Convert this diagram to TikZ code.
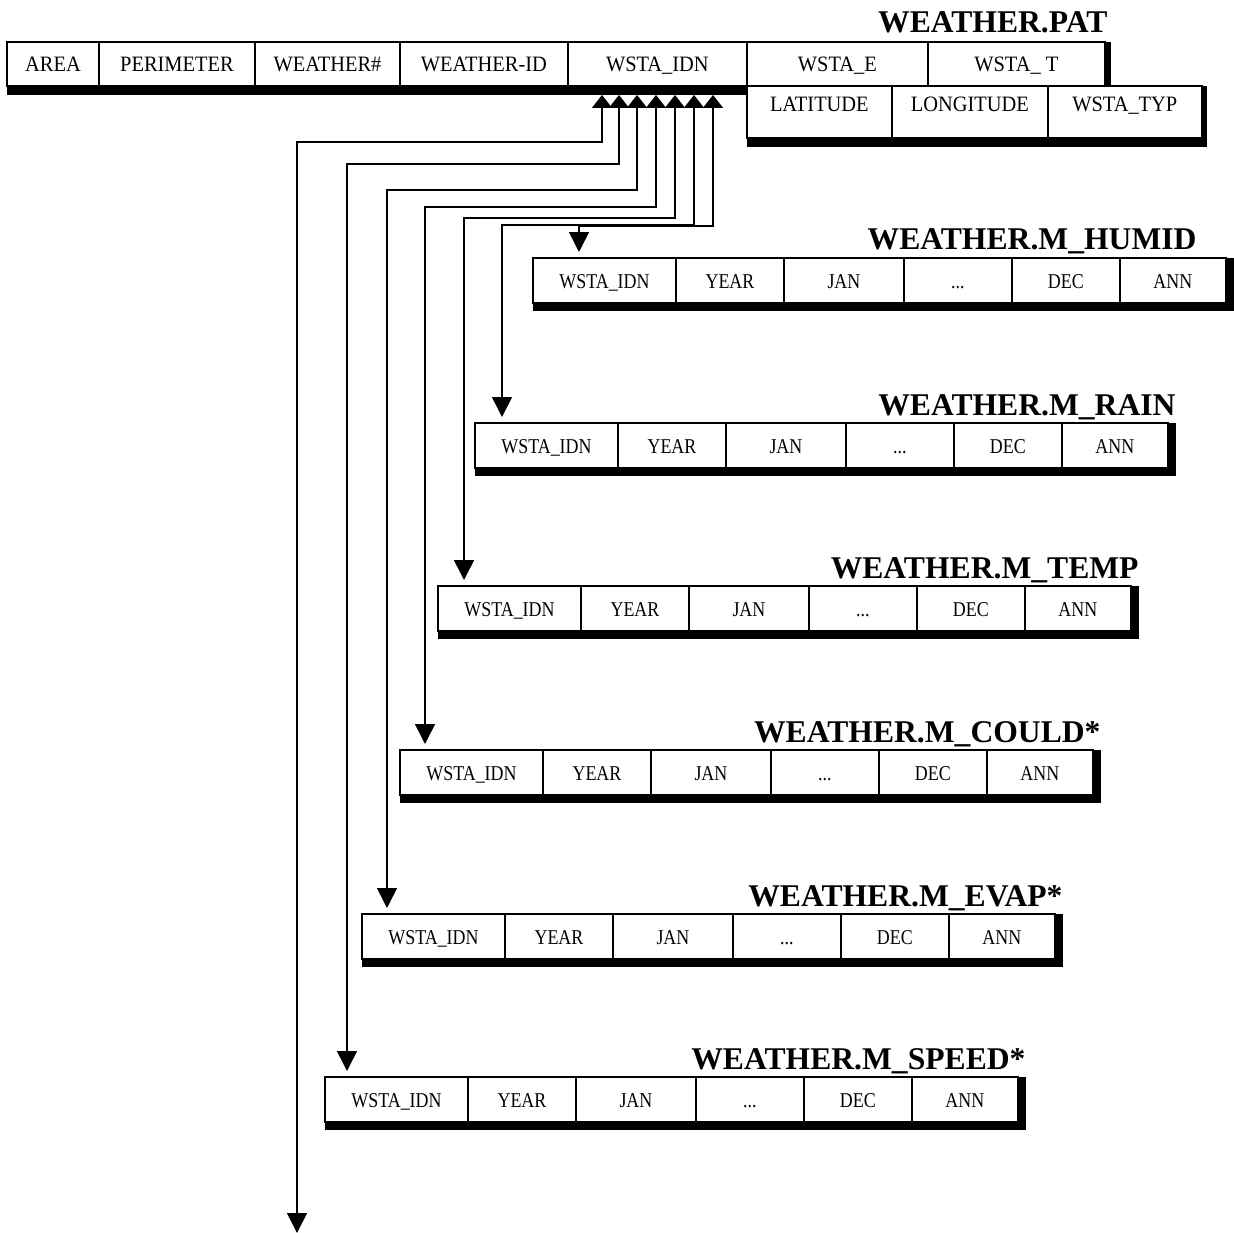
\documentclass[tikz,border=0pt]{standalone}
\usepackage{fontspec}
\setmainfont{Liberation Serif}
\newfontfamily\topfont[FakeStretch=0.93]{Liberation Serif}
\newfontfamily\lowfont[FakeStretch=0.85]{Liberation Serif}
\usetikzlibrary{arrows.meta,positioning,backgrounds}

\begin{document}
\begin{tikzpicture}[
    x=0.02cm, y=-0.02cm,
    cell/.style={rectangle, draw, fill=white, line width=1pt,
                 outer sep=0pt, inner sep=0pt, minimum height=0.88cm,
                 text height=11pt, text depth=1.9pt,
                 font=\topfont\fontsize{12.5}{14}\selectfont},
    cellhi/.style={cell, minimum height=1.04cm, text height=10pt, text depth=10pt},
    lowcell/.style={cell, minimum height=0.9cm,
                 text height=10.5pt, text depth=1.4pt,
                 font=\lowfont\fontsize{12}{14}\selectfont},
    title/.style={inner sep=0pt, anchor=base east,
                  font=\fontsize{18}{21}\selectfont\bfseries},
    link/.style={{Triangle[width=0.4cm,length=0.26cm]}-{Triangle[width=0.4cm,length=0.4cm]},
                 line width=0.9pt, shorten <=0.18cm, shorten >=0.12cm}
  ]
  \useasboundingbox (0,0) rectangle (1234,1233);

  % WEATHER.PAT
  \node[cell, minimum width=1.84cm, anchor=north west] (area) at (7,42) {AREA};
  \node[cell, minimum width=3.12cm, right=0pt of area]  (perim) {PERIMETER};
  \node[cell, minimum width=2.9cm,  right=0pt of perim] (wnum)  {WEATHER\#};
  \node[cell, minimum width=3.36cm, right=0pt of wnum]  (wid)   {WEATHER-ID};
  \node[cell, minimum width=3.58cm, right=0pt of wid]   (idn)   {WSTA\_IDN};
  \node[cell, minimum width=3.62cm, right=0pt of idn]   (wse)   {WSTA\_E};
  \node[cell, minimum width=3.54cm, right=0pt of wse]   (wst)   {WSTA\_ T};
  \node[cellhi, minimum width=2.9cm, anchor=north west] (lat) at (idn.south east) {LATITUDE};
  \node[cellhi, minimum width=3.12cm, right=0pt of lat] (lon) {LONGITUDE};
  \node[cellhi, minimum width=3.08cm, right=0pt of lon] (typ) {WSTA\_TYP};
  \node[title] (pat) at ([shift={(3,-9)}]wst.north east) {WEATHER.PAT};
  \begin{scope}[on background layer]
    \fill (area.north west) rectangle ([shift={(6,9)}]wst.south east);
    \fill (lat.north west) rectangle ([shift={(5,9)}]typ.south east);
  \end{scope}

  % monthly tables
  \foreach \t/\x/\y/\name/\dx in {hum/533/258/HUMID/-29, rain/475/423/RAIN/8,
      tmp/438/586/TEMP/8, cld/400/750/COULD*/8, evp/362/914/EVAP*/8, spd/325/1077/SPEED*/8} {
    \node[lowcell, minimum width=2.86cm, anchor=north west] (\t-idn) at (\x,\y) {WSTA\_IDN};
    \node[lowcell, minimum width=2.16cm, right=0pt of \t-idn]  (\t-year) {YEAR};
    \node[lowcell, minimum width=2.4cm,  right=0pt of \t-year] (\t-jan)  {JAN};
    \node[lowcell, minimum width=2.16cm, right=0pt of \t-jan]  (\t-dots) {...};
    \node[lowcell, minimum width=2.16cm, right=0pt of \t-dots] (\t-dec)  {DEC};
    \node[lowcell, minimum width=2.12cm, right=0pt of \t-dec]  (\t-ann)  {ANN};
    \node[title] (\t-title) at ([shift={(\dx,-8)}]\t-ann.north east) {WEATHER.M\_\name};
    \begin{scope}[on background layer]
      \fill (\t-idn.north west) rectangle ([shift={(8,8)}]\t-ann.south east);
    \end{scope}
  }

  % links from WSTA_IDN
  \coordinate (out) at (297,1233);
  \draw[link, shorten >=0pt] (602,0 |- idn.south) |- (297,142) -- (out);
  \foreach \t/\px/\hy/\lx in {spd/619/164/347, evp/637/190/387, cld/656/207/425,
      tmp/675/218/464, rain/694/225/502, hum/713/226/579}
    \draw[link] (\px,0 |- idn.south) |- (\lx,\hy) -- (\lx,0 |- \t-idn.north);
\end{tikzpicture}
\end{document}
